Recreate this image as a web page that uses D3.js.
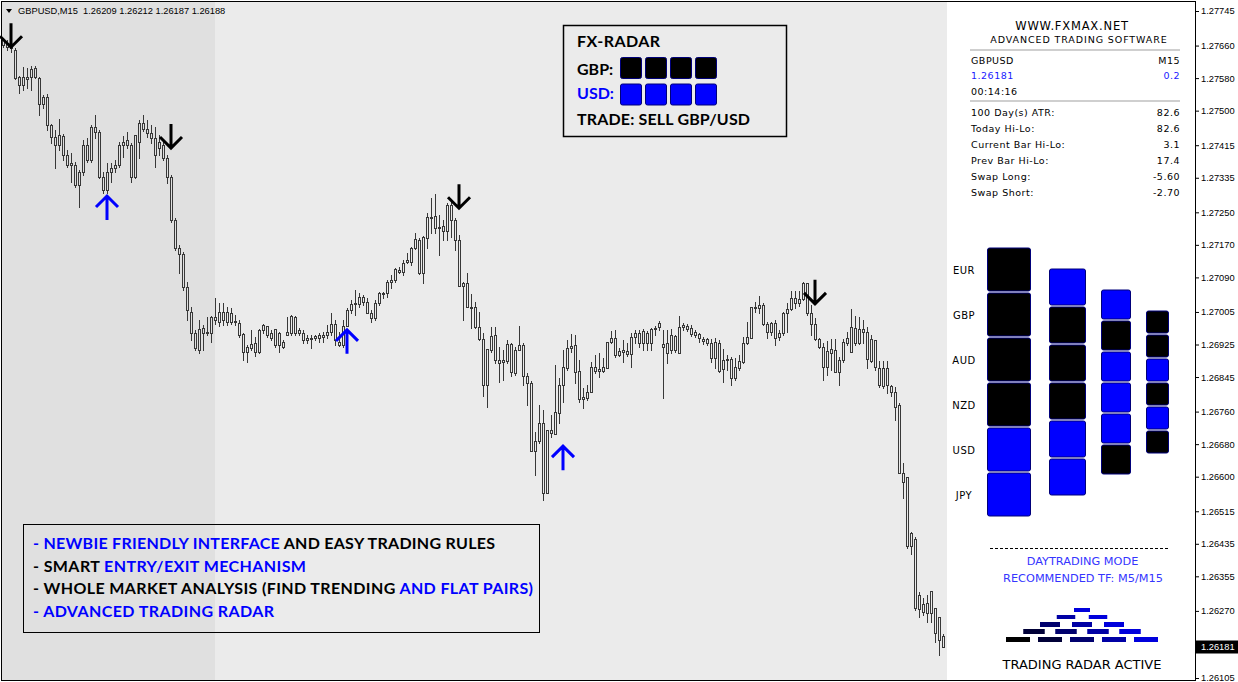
<!DOCTYPE html>
<html>
<head>
<meta charset="utf-8">
<title>GBPUSD M15 - FX-RADAR</title>
<script src="https://cdn.jsdelivr.net/npm/d3@7/dist/d3.min.js"></script>
<style>
html,body{margin:0;padding:0;background:#fff;}
svg{display:block;}
</style>
</head>
<body>
<svg id="chart" width="1238" height="682"></svg>
<script>
// ================= DATA =================
const symbolTitle = "GBPUSD,M15  1.26209 1.26212 1.26187 1.26188";

const opens = [
1.27674,1.27666,1.27661,1.27649,1.27583,1.27563,1.27583,1.27583,1.27605,1.27580,
1.27516,1.27533,1.27465,1.27435,1.27416,1.27438,1.27391,1.27366,1.27366,1.27317,
1.27349,1.27416,1.27379,1.27460,1.27448,1.27337,1.27305,1.27349,1.27359,1.27366,
1.27416,1.27428,1.27416,1.27337,1.27423,1.27470,1.27455,1.27445,1.27433,1.27408,
1.27416,1.27384,1.27337,1.27231,1.27162,1.27148,1.27066,1.27005,1.26953,1.26911,
1.26965,1.26953,1.26953,1.26993,1.26980,1.27005,1.26980,1.27002,1.26983,1.26978,
1.26951,1.26907,1.26916,1.26929,1.26907,1.26961,1.26970,1.26953,1.26963,1.26924,
1.26931,1.26948,1.26953,1.26993,1.26953,1.26953,1.26941,1.26939,1.26941,1.26941,
1.26943,1.26948,1.26956,1.26975,1.26931,1.26924,1.26970,1.27010,1.27025,1.27025,
1.27042,1.27029,1.27002,1.26990,1.27027,1.27052,1.27052,1.27079,1.27084,1.27108,
1.27103,1.27128,1.27128,1.27162,1.27182,1.27101,1.27187,1.27238,1.27241,1.27211,
1.27216,1.27204,1.27268,1.27231,1.27182,1.27069,1.27076,1.27017,1.27017,1.26968,
1.26939,1.26825,1.26911,1.26948,1.26887,1.26882,1.26884,1.26926,1.26855,1.26911,
1.26924,1.26848,1.26830,1.26663,1.26688,1.26732,1.26560,1.26715,1.26705,1.26756,
1.26825,1.26867,1.26916,1.26924,1.26860,1.26791,1.26793,1.26808,1.26870,1.26860,
1.26860,1.26867,1.26931,1.26941,1.26899,1.26907,1.26909,1.26902,1.26943,1.26953,
1.26929,1.26953,1.26929,1.26963,1.26968,1.26926,1.26929,1.26911,1.26946,1.26904,
1.26968,1.26970,1.26965,1.26956,1.26951,1.26939,1.26939,1.26929,1.26892,1.26929,
1.26865,1.26887,1.26889,1.26843,1.26867,1.26882,1.26929,1.26941,1.27015,1.27015,
1.27022,1.26975,1.26956,1.26978,1.26943,1.26953,1.27002,1.27012,1.27039,1.27027,
1.27037,1.27076,1.27002,1.26975,1.26939,1.26919,1.26870,1.26904,1.26911,1.26857,
1.26887,1.26929,1.26907,1.26965,1.26929,1.26963,1.26956,1.26884,1.26936,1.26867,
1.26823,1.26867,1.26823,1.26808,1.26776,1.26609,1.26599,1.26429,1.26447,1.26275,
1.26287,1.26265,1.26265,1.26277,1.26255,1.26209
];
const highs = [
1.27679,1.27674,1.27669,1.27654,1.27585,1.27607,1.27605,1.27610,1.27610,1.27583,
1.27538,1.27541,1.27467,1.27452,1.27479,1.27443,1.27403,1.27396,1.27374,1.27354,
1.27428,1.27433,1.27465,1.27489,1.27452,1.27349,1.27371,1.27371,1.27379,1.27423,
1.27438,1.27448,1.27420,1.27440,1.27477,1.27489,1.27477,1.27465,1.27460,1.27440,
1.27428,1.27391,1.27342,1.27236,1.27170,1.27152,1.27079,1.27017,1.26961,1.26985,
1.26973,1.26993,1.26995,1.27039,1.27027,1.27027,1.27017,1.27015,1.26997,1.26985,
1.26953,1.26924,1.26961,1.26943,1.26963,1.26975,1.26970,1.26961,1.26963,1.26956,
1.26936,1.26993,1.26997,1.26995,1.26965,1.26961,1.26948,1.26948,1.26948,1.26953,
1.26956,1.26973,1.27002,1.26985,1.26956,1.26985,1.27015,1.27034,1.27059,1.27052,
1.27047,1.27039,1.27010,1.27034,1.27054,1.27054,1.27084,1.27096,1.27113,1.27115,
1.27133,1.27150,1.27165,1.27199,1.27187,1.27192,1.27248,1.27285,1.27295,1.27243,
1.27231,1.27273,1.27275,1.27236,1.27194,1.27079,1.27101,1.27049,1.27029,1.27005,
1.26953,1.26914,1.26968,1.26968,1.26919,1.26911,1.26936,1.26929,1.26919,1.26970,
1.26929,1.26855,1.26835,1.26710,1.26776,1.26764,1.26715,1.26752,1.26875,1.26843,
1.26911,1.26936,1.26951,1.26948,1.26887,1.26818,1.26825,1.26882,1.26899,1.26904,
1.26892,1.26931,1.26958,1.26961,1.26916,1.26936,1.26929,1.26953,1.26961,1.26961,
1.26963,1.26958,1.26965,1.26970,1.26983,1.26961,1.26961,1.26963,1.26948,1.26995,
1.26978,1.26975,1.26973,1.26961,1.26953,1.26943,1.26941,1.26939,1.26941,1.26936,
1.26914,1.26899,1.26894,1.26892,1.26899,1.26943,1.26980,1.27017,1.27029,1.27044,
1.27027,1.26980,1.26980,1.26985,1.26961,1.27005,1.27027,1.27056,1.27056,1.27056,
1.27079,1.27076,1.27022,1.26990,1.26941,1.26929,1.26933,1.26939,1.26939,1.26894,
1.26939,1.26956,1.27012,1.26995,1.26993,1.26985,1.26968,1.26948,1.26936,1.26884,
1.26884,1.26884,1.26825,1.26820,1.26781,1.26634,1.26599,1.26464,1.26452,1.26316,
1.26302,1.26309,1.26319,1.26277,1.26255,1.26212
];
const lows = [
1.27656,1.27649,1.27644,1.27578,1.27543,1.27551,1.27556,1.27551,1.27580,1.27489,
1.27506,1.27452,1.27420,1.27359,1.27403,1.27379,1.27361,1.27324,1.27312,1.27263,
1.27342,1.27374,1.27374,1.27433,1.27334,1.27297,1.27297,1.27324,1.27349,1.27361,
1.27386,1.27408,1.27324,1.27334,1.27384,1.27450,1.27435,1.27420,1.27361,1.27391,
1.27379,1.27322,1.27226,1.27157,1.27101,1.27059,1.26985,1.26936,1.26911,1.26904,
1.26911,1.26948,1.26931,1.26975,1.26970,1.26973,1.26973,1.26975,1.26973,1.26943,
1.26887,1.26882,1.26911,1.26897,1.26904,1.26953,1.26943,1.26936,1.26919,1.26907,
1.26916,1.26948,1.26948,1.26948,1.26948,1.26929,1.26929,1.26916,1.26936,1.26931,
1.26931,1.26941,1.26948,1.26924,1.26921,1.26919,1.26970,1.27002,1.26997,1.27017,
1.27022,1.27002,1.26980,1.26985,1.27022,1.27039,1.27042,1.27064,1.27079,1.27101,
1.27096,1.27125,1.27120,1.27160,1.27098,1.27076,1.27162,1.27199,1.27199,1.27145,
1.27182,1.27182,1.27189,1.27157,1.27069,1.26985,1.27017,1.26965,1.26965,1.26936,
1.26798,1.26771,1.26907,1.26879,1.26833,1.26838,1.26879,1.26848,1.26850,1.26911,
1.26825,1.26776,1.26663,1.26604,1.26683,1.26543,1.26560,1.26697,1.26705,1.26732,
1.26784,1.26862,1.26907,1.26830,1.26784,1.26769,1.26788,1.26808,1.26855,1.26845,
1.26857,1.26867,1.26929,1.26894,1.26897,1.26882,1.26897,1.26870,1.26929,1.26919,
1.26911,1.26911,1.26911,1.26948,1.26961,1.26793,1.26879,1.26904,1.26907,1.26904,
1.26961,1.26958,1.26946,1.26943,1.26931,1.26926,1.26924,1.26882,1.26867,1.26857,
1.26833,1.26862,1.26825,1.26838,1.26862,1.26879,1.26926,1.26941,1.27005,1.27002,
1.26973,1.26941,1.26948,1.26924,1.26936,1.26948,1.26956,1.27010,1.27015,1.27020,
1.27034,1.26997,1.26948,1.26936,1.26916,1.26838,1.26850,1.26862,1.26857,1.26825,
1.26882,1.26924,1.26907,1.26924,1.26926,1.26929,1.26867,1.26882,1.26862,1.26820,
1.26818,1.26806,1.26798,1.26739,1.26609,1.26547,1.26425,1.26410,1.26272,1.26255,
1.26260,1.26243,1.26243,1.26193,1.26161,1.26181
];
const closes = [
1.27661,1.27656,1.27654,1.27580,1.27563,1.27583,1.27578,1.27602,1.27583,1.27516,
1.27533,1.27465,1.27435,1.27416,1.27440,1.27391,1.27366,1.27371,1.27317,1.27349,
1.27416,1.27379,1.27460,1.27448,1.27337,1.27305,1.27349,1.27359,1.27366,1.27416,
1.27423,1.27416,1.27337,1.27440,1.27470,1.27455,1.27445,1.27433,1.27391,1.27423,
1.27384,1.27337,1.27231,1.27162,1.27148,1.27066,1.27010,1.26953,1.26916,1.26963,
1.26953,1.26956,1.26993,1.26985,1.27005,1.26985,1.27005,1.26980,1.26980,1.26948,
1.26907,1.26919,1.26926,1.26907,1.26961,1.26973,1.26948,1.26941,1.26924,1.26953,
1.26919,1.26956,1.26995,1.26953,1.26961,1.26936,1.26936,1.26941,1.26946,1.26948,
1.26948,1.26956,1.26975,1.26936,1.26924,1.26970,1.27010,1.27025,1.27027,1.27042,
1.27029,1.27002,1.26990,1.27027,1.27052,1.27049,1.27079,1.27084,1.27111,1.27103,
1.27125,1.27133,1.27162,1.27184,1.27101,1.27189,1.27238,1.27236,1.27211,1.27214,
1.27204,1.27268,1.27231,1.27182,1.27069,1.27076,1.27017,1.27015,1.26968,1.26939,
1.26825,1.26914,1.26946,1.26887,1.26879,1.26887,1.26926,1.26857,1.26911,1.26924,
1.26848,1.26830,1.26663,1.26688,1.26732,1.26560,1.26715,1.26707,1.26759,1.26825,
1.26870,1.26916,1.26921,1.26857,1.26791,1.26796,1.26808,1.26870,1.26860,1.26865,
1.26870,1.26931,1.26941,1.26899,1.26909,1.26911,1.26902,1.26943,1.26953,1.26929,
1.26958,1.26929,1.26963,1.26965,1.26978,1.26919,1.26904,1.26948,1.26911,1.26968,
1.26973,1.26963,1.26951,1.26948,1.26941,1.26933,1.26929,1.26892,1.26931,1.26860,
1.26887,1.26889,1.26843,1.26870,1.26884,1.26929,1.26943,1.27017,1.27017,1.27022,
1.26975,1.26956,1.26978,1.26941,1.26953,1.27002,1.27012,1.27039,1.27027,1.27037,
1.27076,1.27002,1.26975,1.26939,1.26919,1.26870,1.26909,1.26914,1.26857,1.26887,
1.26931,1.26941,1.26968,1.26929,1.26963,1.26956,1.26889,1.26939,1.26870,1.26825,
1.26867,1.26825,1.26808,1.26771,1.26609,1.26587,1.26429,1.26461,1.26277,1.26309,
1.26267,1.26289,1.26319,1.26215,1.26198,1.26181
];

const priceTicks = [1.27745,1.27660,1.27580,1.27500,1.27415,1.27335,1.27250,1.27170,1.27090,1.27005,
                    1.26925,1.26845,1.26760,1.26680,1.26600,1.26515,1.26435,1.26355,1.26270,1.26105];
const currentPrice = 1.26181;

// signal arrows: candle index + price of arrow tip
const sellSignalIdx = [2, 42, 114, 203];
const sellSignalPrice = [1.27656, 1.27408, 1.27260, 1.27025];
const buySignalIdx = [26, 86, 140];
const buySignalPrice = [1.27290, 1.26961, 1.26675];

// info panel
const panelTitle = "WWW.FXMAX.NET";
const panelSubtitle = "ADVANCED TRADING SOFTWARE";
const panelSymbol = ["GBPUSD", "M15"];
const panelQuote = ["1.26181", "0.2"];
const panelTimer = "00:14:16";
const infoLabels = ["100 Day(s) ATR:", "Today Hi-Lo:", "Current Bar Hi-Lo:", "Prev Bar Hi-Lo:", "Swap Long:", "Swap Short:"];
const infoValues = ["82.6", "82.6", "3.1", "17.4", "-5.60", "-2.70"];

// currency strength radar: 1 = strong (blue), 0 = weak (black)
const radarCurrencies = ["EUR", "GBP", "AUD", "NZD", "USD", "JPY"];
const radarColumns = [
  [0, 0, 0, 0, 1, 1],
  [1, 0, 0, 0, 1, 1],
  [1, 0, 1, 1, 1, 0],
  [0, 0, 1, 0, 1, 0]
];

// FX-RADAR box
const fxRadarPairs = ["GBP:", "USD:"];
const fxRadarStates = [[0, 0, 0, 0], [1, 1, 1, 1]];
const fxRadarTrade = "TRADE: SELL GBP/USD";

const modeLines = ["DAYTRADING MODE", "RECOMMENDED TF: M5/M15"];
const pyramidRows = [1, 2, 3, 4, 5];
const radarStatus = "TRADING RADAR ACTIVE";

const featureLines = [
  [["- NEWBIE FRIENDLY INTERFACE", 1], [" AND EASY TRADING RULES", 0]],
  [["- SMART ", 0], ["ENTRY/EXIT MECHANISM", 1]],
  [["- WHOLE MARKET ANALYSIS (FIND TRENDING ", 0], ["AND FLAT PAIRS)", 1]],
  [["- ADVANCED TRADING RADAR", 1]]
];

// ================= DRAWING =================
const W = 1238, H = 682;
const svg = d3.select("#chart");
const BLUE = "#0000ff";

function fitText(sel, target) {
  sel.attr("letter-spacing", null);
  const w = sel.node().getComputedTextLength();
  const n = sel.text().length;
  if (n > 1) sel.attr("letter-spacing", ((target - w) / (n - 1)).toFixed(3));
  return sel;
}

// backgrounds
svg.append("rect").attr("width", W).attr("height", H).attr("fill", "#ffffff");
svg.append("rect").attr("x", 2).attr("y", 2).attr("width", 213).attr("height", 678).attr("fill", "#e0e0e0");
svg.append("rect").attr("x", 215).attr("y", 2).attr("width", 732).attr("height", 678).attr("fill", "#ebebeb");

// scales
const N = closes.length;
const x = d3.scaleLinear().domain([0, N - 1]).range([3, 3 + 4 * (N - 1)]);
const y = d3.scaleLinear().domain([1.26105, 1.27745]).range([678, 11]);

const candles = d3.range(N).map(i => ({ i, o: opens[i], h: highs[i], l: lows[i], c: closes[i] }));
candles.forEach(d => {
  d.cx = Math.round(x(d.i));
  d.top = Math.round(y(Math.max(d.o, d.c)));
  d.bot = Math.round(y(Math.min(d.o, d.c)));
  if (d.bot - d.top < 1) d.bot = d.top + 1;
  d.hy = Math.round(y(d.h));
  d.ly = Math.round(y(d.l));
});

const cg = svg.append("g").attr("stroke", "#383838").attr("stroke-width", 1)
  .attr("shape-rendering", "crispEdges").attr("fill", "none");

cg.selectAll("line.up").data(candles.filter(d => d.hy < d.top)).join("line")
  .attr("class", "up")
  .attr("x1", d => d.cx + 0.5).attr("x2", d => d.cx + 0.5)
  .attr("y1", d => d.hy).attr("y2", d => d.top);
cg.selectAll("line.dn").data(candles.filter(d => d.ly > d.bot)).join("line")
  .attr("class", "dn")
  .attr("x1", d => d.cx + 0.5).attr("x2", d => d.cx + 0.5)
  .attr("y1", d => d.bot + 1).attr("y2", d => d.ly + 1);
cg.selectAll("rect.body").data(candles).join("rect")
  .attr("class", "body")
  .attr("x", d => d.cx - 0.5).attr("y", d => d.top + 0.5)
  .attr("width", 2).attr("height", d => d.bot - d.top);

// signal arrows
const sells = sellSignalIdx.map((i, k) => ({ cx: x(i), ty: y(sellSignalPrice[k]) }));
const buys = buySignalIdx.map((i, k) => ({ cx: x(i), ty: y(buySignalPrice[k]) }));
svg.append("g").selectAll("path").data(sells).join("path")
  .attr("d", d => `M${d.cx},${d.ty - 24}V${d.ty - 1}M${d.cx - 11},${d.ty - 11}L${d.cx},${d.ty}L${d.cx + 11},${d.ty - 11}`)
  .attr("fill", "none").attr("stroke", "#000").attr("stroke-width", 3);
svg.append("g").selectAll("path").data(buys).join("path")
  .attr("d", d => `M${d.cx},${d.ty + 24}V${d.ty + 1}M${d.cx - 11},${d.ty + 11}L${d.cx},${d.ty}L${d.cx + 11},${d.ty + 11}`)
  .attr("fill", "none").attr("stroke", BLUE).attr("stroke-width", 3);

// frame
svg.append("rect").attr("x", 1.5).attr("y", 1.5).attr("width", 1194).attr("height", 679)
  .attr("fill", "none").attr("stroke", "#000").attr("stroke-width", 1);

// price axis
const axis = d3.axisRight(y).tickValues(priceTicks).tickFormat(d3.format(".5f")).tickSize(3).tickPadding(2);
const ag = svg.append("g").attr("transform", "translate(1196,0)").call(axis)
  .attr("font-family", "'Liberation Sans', Arial, sans-serif").attr("font-size", 9.3);
ag.select(".domain").remove();
ag.selectAll(".tick line").attr("stroke", "#000");
ag.selectAll(".tick text").attr("fill", "#000");

// current price label
const cpy = y(currentPrice);
svg.append("rect").attr("x", 1196).attr("y", Math.round(cpy) - 6.5).attr("width", 42).attr("height", 13).attr("fill", "#000");
svg.append("text").attr("x", 1201).attr("y", cpy).attr("dy", "0.35em")
  .attr("font-family", "'Liberation Sans', Arial, sans-serif").attr("font-size", 9.3)
  .attr("fill", "#fff").text(d3.format(".5f")(currentPrice));

// header
svg.append("path").attr("d", "M6,9L12,9L9,13Z").attr("fill", "#000");
svg.append("text").attr("x", 18).attr("y", 14).style("white-space", "pre")
  .attr("font-family", "'Liberation Sans', Arial, sans-serif").attr("font-size", 9.3)
  .attr("fill", "#000").text(symbolTitle);

// ---------- right info panel ----------
const PF = "'DejaVu Sans', Verdana, sans-serif";
const pg = svg.append("g").attr("font-family", PF);
pg.append("text").attr("x", 1072).attr("y", 29.5).attr("text-anchor", "middle")
  .attr("font-size", 11.5).attr("letter-spacing", 0.8).attr("fill", "#000").text(panelTitle);
pg.append("text").attr("x", 1079).attr("y", 42.5).attr("text-anchor", "middle")
  .attr("font-size", 9.5).attr("letter-spacing", 0.9).attr("fill", "#000").text(panelSubtitle);
pg.append("rect").attr("x", 970).attr("y", 49).attr("width", 210).attr("height", 2).attr("fill", "#cfcfcf");
pg.append("rect").attr("x", 970).attr("y", 100).attr("width", 210).attr("height", 2).attr("fill", "#cfcfcf");

function row(left, right, yy, color) {
  pg.append("text").attr("x", 971).attr("y", yy).attr("font-size", 9.5).attr("letter-spacing", 0.5)
    .attr("fill", color).text(left);
  if (right !== null)
    pg.append("text").attr("x", 1180).attr("y", yy).attr("text-anchor", "end").attr("font-size", 9.5)
      .attr("letter-spacing", 0.5).attr("fill", color).text(right);
}
row(panelSymbol[0], panelSymbol[1], 63.5, "#000");
row(panelQuote[0], panelQuote[1], 79, "#1a1aff");
row(panelTimer, null, 94.5, "#000");
infoLabels.forEach((lab, k) => row(lab, infoValues[k], 115.5 + 16 * k, "#000"));

// currency radar columns
const colW = [44, 37, 30, 23], colStep = [45, 38, 31, 24], colCX = [1009, 1067.5, 1116, 1157.5];
const radarMidY = 382.5;
const rg = svg.append("g");
radarColumns.forEach((col, c) => {
  const top = radarMidY - 3 * colStep[c];
  rg.append("g").selectAll("rect").data(col).join("rect")
    .attr("x", colCX[c] - colW[c] / 2 + 0.5)
    .attr("y", (d, k) => top + k * colStep[c] + 0.5)
    .attr("width", colW[c] - 1).attr("height", colStep[c] - 2)
    .attr("rx", 2).attr("fill", d => d ? BLUE : "#000")
    .attr("stroke", "#00007a").attr("stroke-width", 1);
});
rg.selectAll("text").data(radarCurrencies).join("text")
  .attr("x", 964).attr("y", (d, k) => radarMidY - 3 * colStep[0] + k * colStep[0] + colStep[0] / 2)
  .attr("dy", "0.36em").attr("text-anchor", "middle")
  .attr("font-family", PF).attr("font-size", 10).attr("letter-spacing", 0.5).attr("fill", "#000")
  .text(d => d);

// dashed separator + mode text
svg.append("line").attr("x1", 990).attr("x2", 1168).attr("y1", 548.5).attr("y2", 548.5)
  .attr("stroke", "#000").attr("stroke-width", 1).attr("stroke-dasharray", "3,2");
svg.append("text").attr("x", 1082.5).attr("y", 565).attr("text-anchor", "middle")
  .attr("font-family", PF).attr("font-size", 11.3).attr("fill", "#3535ff").text(modeLines[0]);
svg.append("text").attr("x", 1083).attr("y", 581.7).attr("text-anchor", "middle")
  .attr("font-family", PF).attr("font-size", 11.3).attr("fill", "#3535ff").text(modeLines[1]);

// pyramid
const pyrW = [16, 18.5, 20, 21.5, 24], pyrTop = [608, 615, 622, 629, 637], pyrH = [4, 4, 5, 5, 5];
const pyrColor = d3.interpolateRgb("#000000", "#0000dc");
const pyrBars = [];
pyramidRows.forEach((n, r) => {
  for (let k = 0; k < n; k++) {
    pyrBars.push({ r, cx: 1082 + (k - (n - 1) / 2) * 32, t: (k + (5 - n)) / 4 });
  }
});
svg.append("g").selectAll("rect").data(pyrBars).join("rect")
  .attr("x", d => d.cx - pyrW[d.r] / 2).attr("y", d => pyrTop[d.r])
  .attr("width", d => pyrW[d.r]).attr("height", d => pyrH[d.r])
  .attr("fill", d => pyrColor(d.t));
svg.append("text").attr("x", 1082).attr("y", 669).attr("text-anchor", "middle")
  .attr("font-family", PF).attr("font-size", 13).attr("fill", "#000").text(radarStatus);

// ---------- FX-RADAR box ----------
const BF = "Lato, 'Open Sans', sans-serif";
svg.append("rect").attr("x", 563.5).attr("y", 25.5).attr("width", 223).attr("height", 111)
  .attr("fill", "none").attr("stroke", "#000").attr("stroke-width", 1.5);
fitText(svg.append("text").attr("x", 577).attr("y", 46.7).attr("font-family", BF).attr("font-weight", 700)
  .attr("font-size", 16).attr("fill", "#000").text("FX-RADAR"), 83);
const pairY = [75, 98.5], pairColor = ["#000", BLUE], boxTop = [57, 83.5];
fxRadarPairs.forEach((p, r) => {
  svg.append("text").attr("x", 577).attr("y", pairY[r]).attr("font-family", BF).attr("font-weight", 700)
    .attr("font-size", 16).attr("fill", pairColor[r]).text(p);
  svg.append("g").selectAll("rect").data(fxRadarStates[r]).join("rect")
    .attr("x", (d, k) => 620.5 + k * 25).attr("y", boxTop[r] + 0.5)
    .attr("width", 21).attr("height", 21).attr("rx", 2)
    .attr("fill", d => d ? BLUE : "#000").attr("stroke", "#00007a").attr("stroke-width", 1);
});
fitText(svg.append("text").attr("x", 577).attr("y", 125).attr("font-family", BF).attr("font-weight", 700)
  .attr("font-size", 16).attr("fill", "#000").text(fxRadarTrade), 173);

// ---------- features box ----------
svg.append("rect").attr("x", 23.5).attr("y", 524.5).attr("width", 516).attr("height", 108)
  .attr("fill", "none").attr("stroke", "#000").attr("stroke-width", 1);
const featY = [549, 571.5, 594, 617];
const featW = [462, 273, 500, 241];
featureLines.forEach((parts, r) => {
  const t = svg.append("text").attr("x", 33).attr("y", featY[r]).attr("font-family", BF)
    .attr("font-weight", 700).attr("font-size", 16).style("white-space", "pre");
  parts.forEach(([s, blue]) => t.append("tspan").attr("fill", blue ? BLUE : "#000").text(s));
  fitText(t, featW[r]);
});
</script>
</body>
</html>
